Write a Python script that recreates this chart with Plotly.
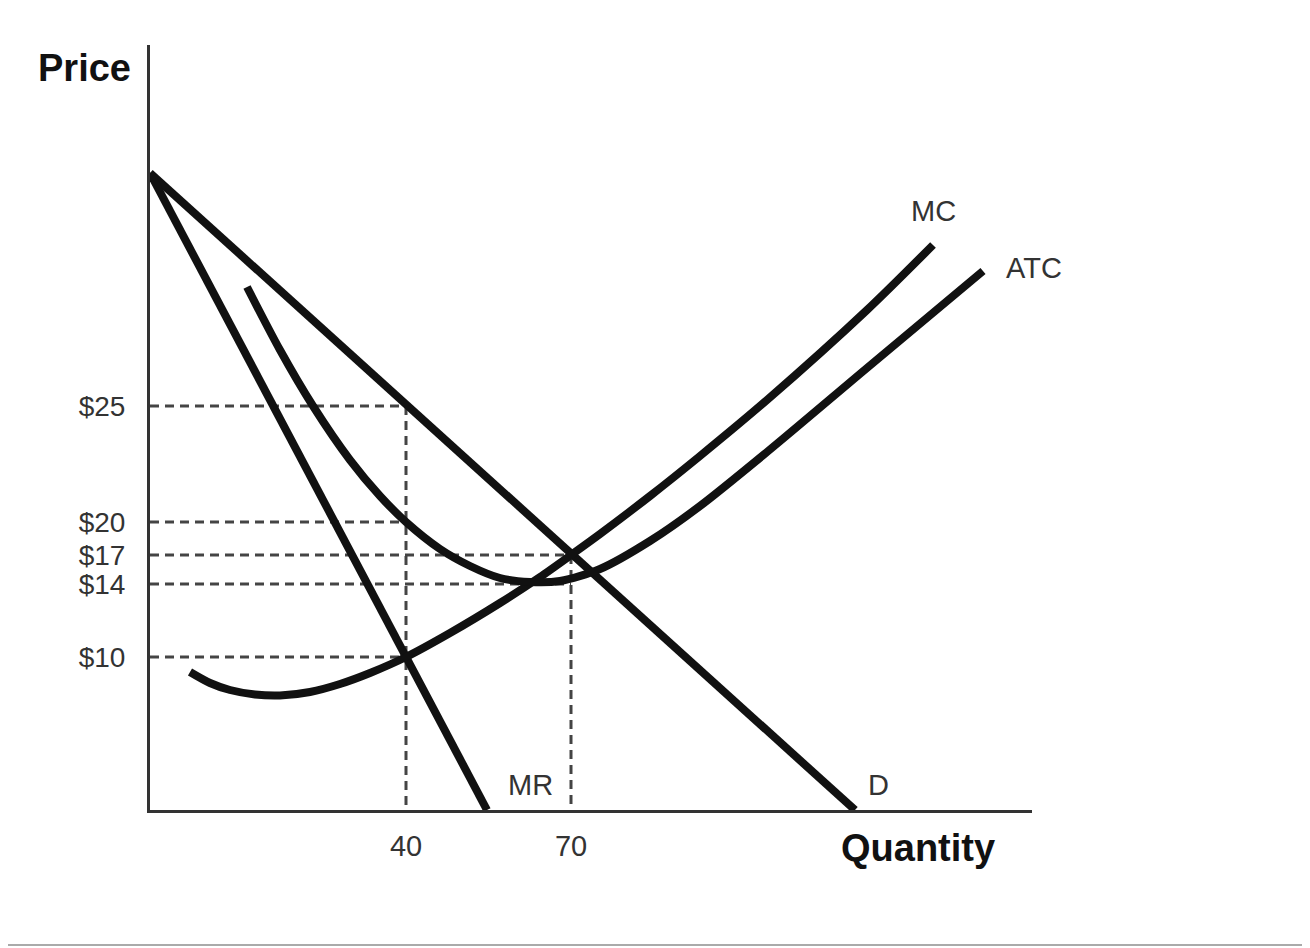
import plotly.graph_objects as go

# chart units: schematic quantity (x) and price (y) positions
d_x = [0, 70.5]
d_y = [63.7, 0]

mr_x = [0, 33.7]
mr_y = [63.7, 0]

mc_x = [4.0, 6.0, 8.0, 10.5, 13.0, 16.0, 19.0, 22.0, 25.6, 30.0, 35.0, 39.0, 42.1,
        45.0, 50.0, 55.0, 61.7, 71.7, 78.3]
mc_y = [13.8, 12.7, 12.0, 11.55, 11.45, 11.8, 12.6, 13.7, 15.3, 17.7, 20.7, 23.3, 25.5,
        27.6, 31.4, 35.4, 41.0, 50.0, 56.5]

atc_x = [9.7, 13.0, 16.3, 20.0, 23.0, 25.6, 29.0, 32.0, 35.0, 38.0, 41.0,
         45.0, 50.0, 55.0, 61.7, 71.7, 83.3]
atc_y = [52.3, 46.0, 40.4, 35.0, 31.4, 28.8, 26.1, 24.4, 23.2, 22.8, 22.9,
         24.1, 26.9, 30.4, 35.8, 44.2, 53.9]

price_pos = [40.4, 28.8, 25.5, 22.6, 15.3]
price_labels = ["$25", "$20", "$17", "$14", "$10"]
qty_pos = [25.6, 42.1]
qty_labels = ["40", "70"]

# which quantity each price guide runs to
price_guide_to = [25.6, 25.6, 42.1, 42.1, 25.6]
# vertical guides: price at the top of each quantity guide
qty_guide_top = [40.4, 25.5]

FONT = "Liberation Sans, Arial, sans-serif"
CURVE = dict(color="#111111", width=8)
GUIDE = dict(color="#444444", width=3, dash="9px,6px")

fig = go.Figure()

for p, q in zip(price_pos, price_guide_to):
    fig.add_trace(go.Scatter(x=[0, q], y=[p, p], mode="lines", line=GUIDE,
                             hoverinfo="skip"))
for q, top in zip(qty_pos, qty_guide_top):
    fig.add_trace(go.Scatter(x=[q, q], y=[top, 0], mode="lines", line=GUIDE,
                             hoverinfo="skip"))

fig.add_trace(go.Scatter(x=d_x, y=d_y, mode="lines", line=CURVE, name="D"))
fig.add_trace(go.Scatter(x=mr_x, y=mr_y, mode="lines", line=CURVE, name="MR"))
fig.add_trace(go.Scatter(x=mc_x, y=mc_y, mode="lines",
                         line=dict(CURVE, shape="spline", smoothing=0.8), name="MC"))
fig.add_trace(go.Scatter(x=atc_x, y=atc_y, mode="lines",
                         line=dict(CURVE, shape="spline", smoothing=0.8), name="ATC"))

# curve labels (data coords, inside the plot)
for text, x, y in [("MC", 78.3, 59.9), ("MR", 38.0, 2.5), ("D", 72.8, 2.5)]:
    fig.add_annotation(x=x, y=y, text=text, showarrow=False,
                       xanchor="center", yanchor="middle",
                       font=dict(family=FONT, size=29, color="#333333"))

# labels that sit outside the plot area (paper coords)
for text, x, y, size in [("ATC", 1.0023, 0.7085, 29),
                         ("<b>Price</b>", -0.0737, 0.970, 38),
                         ("<b>Quantity</b>", 0.8707, -0.0497, 38)]:
    fig.add_annotation(xref="paper", yref="paper", x=x, y=y, text=text, showarrow=False,
                       xanchor="center", yanchor="middle",
                       font=dict(family=FONT, size=size,
                                 color="#333333" if size < 30 else "#111111"))

# thin gray rule along the bottom of the picture
fig.add_shape(type="line", xref="paper", yref="paper", x0=-0.2, x1=1.4,
              y0=-0.1765, y1=-0.1765, line=dict(color="#aaaaaa", width=2))

fig.update_xaxes(
    range=[0, 88.2], showgrid=False, zeroline=False, showline=True,
    linecolor="#333333", linewidth=3, tickvals=qty_pos, ticktext=qty_labels,
    ticks="", ticklabelstandoff=8, tickfont=dict(family=FONT, size=29, color="#333333"),
)
fig.update_yaxes(
    range=[0, 76.5], showgrid=False, zeroline=False, showline=True,
    linecolor="#333333", linewidth=3, tickvals=price_pos, ticktext=price_labels,
    ticks="", ticklabelstandoff=16, tickfont=dict(family=FONT, size=28, color="#333333"),
)

# page body has an 8px margin, so the figure is 8px smaller each way
fig.update_layout(
    width=1302, height=940,
    margin=dict(l=142, r=278, t=37, b=138),
    plot_bgcolor="white", paper_bgcolor="white",
    showlegend=False,
)

fig.write_html("out.html")
